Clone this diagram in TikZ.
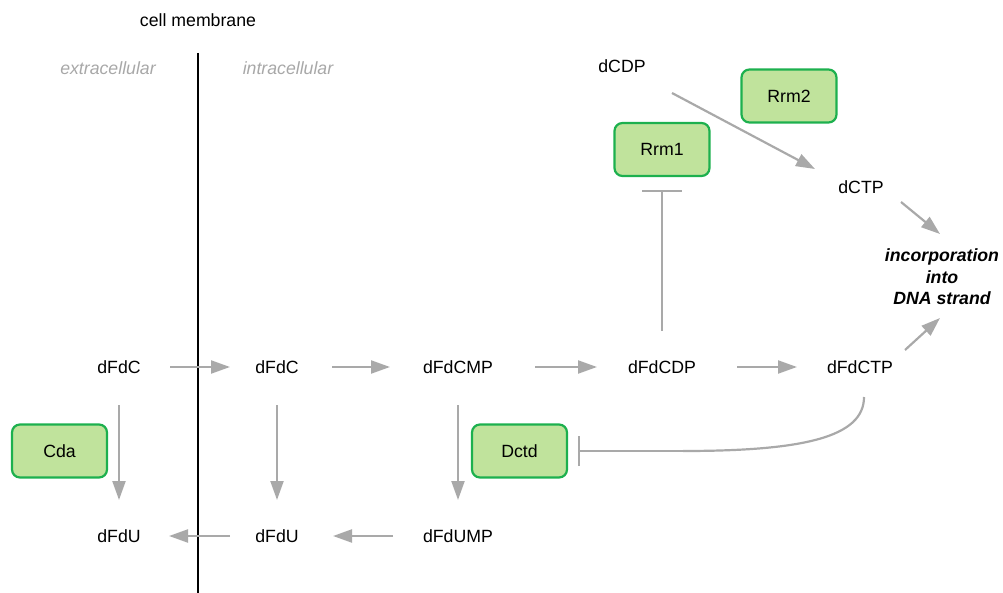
\documentclass[tikz,border=0pt]{standalone}
\usepackage{fontspec}
\setmainfont{Liberation Sans}
\usetikzlibrary{arrows.meta}
\definecolor{arrgray}{HTML}{A9A9A9}
\definecolor{lblgray}{HTML}{A8A8A8}
\definecolor{boxfill}{HTML}{C0E39C}
\definecolor{boxline}{HTML}{1DB04E}
\tikzset{
  txt/.style={inner sep=0pt, font=\fontsize{17.7}{21}\selectfont},
  graylbl/.style={txt, text=lblgray, font=\fontsize{17.7}{21}\selectfont\itshape},
  enzyme/.style={txt, draw=boxline, fill=boxfill, line width=2.2pt, rounded corners=8pt,
    minimum width=95pt, minimum height=53pt},
  arr/.style={draw=arrgray, line width=2.2pt, -{Triangle[length=19pt,width=13pt]}},
  inh/.style={draw=arrgray, line width=2.2pt},
}
\begin{document}
\begin{tikzpicture}[x=1pt,y=-1pt]
\useasboundingbox (0,0) rectangle (1003,593);
% membrane
\node[txt] (cm) at (198,20) {cell membrane};
\coordinate (mtop) at (198,53);
\coordinate (mbot) at (198,593);
\draw[line width=2.2pt] (mtop) -- (mbot);
\node[graylbl] (ext) at (108,68) {extracellular};
\node[graylbl] (int) at (288,68) {intracellular};
% metabolites
\node[txt] (dCDP) at (622,66) {dCDP};
\node[txt] (dCTP) at (861,187) {dCTP};
\node[txt, align=center, font=\fontsize{17.7}{21.5}\selectfont\bfseries\itshape] (inc) at (942,277) {incorporation\\into\\DNA strand};
\node[txt] (dFdC1) at (119,367) {dFdC};
\node[txt] (dFdC2) at (277,367) {dFdC};
\node[txt] (dFdCMP) at (458,367) {dFdCMP};
\node[txt] (dFdCDP) at (662,367) {dFdCDP};
\node[txt] (dFdCTP) at (860,367) {dFdCTP};
\node[txt] (dFdU1) at (119,536) {dFdU};
\node[txt] (dFdU2) at (277,536) {dFdU};
\node[txt] (dFdUMP) at (458,536) {dFdUMP};
% enzymes
\node[enzyme] (Rrm2) at (789,96) {Rrm2};
\node[enzyme] (Rrm1) at (662,149.5) {Rrm1};
\node[enzyme] (Cda) at (59.5,451) {Cda};
\node[enzyme] (Dctd) at (519.5,451) {Dctd};
% horizontal arrows
\draw[arr, shorten <=51pt, shorten >=47pt] (dFdC1.center) -- (dFdC2.center);
\draw[arr, shorten <=55pt, shorten >=68pt] (dFdC2.center) -- (dFdCMP.center);
\draw[arr, shorten <=77pt, shorten >=65pt] (dFdCMP.center) -- (dFdCDP.center);
\draw[arr, shorten <=75pt, shorten >=63pt] (dFdCDP.center) -- (dFdCTP.center);
\draw[arr, shorten <=65pt, shorten >=56pt] (dFdUMP.center) -- (dFdU2.center);
\draw[arr, shorten <=47pt, shorten >=50pt] (dFdU2.center) -- (dFdU1.center);
% vertical arrows
\draw[arr, shorten <=38pt, shorten >=36pt] (dFdC1.center) -- (dFdU1.center);
\draw[arr, shorten <=38pt, shorten >=36pt] (dFdC2.center) -- (dFdU2.center);
\draw[arr, shorten <=38pt, shorten >=36pt] (dFdCMP.center) -- (dFdUMP.center);
% top arrows
\draw[arr] ([xshift=50pt,yshift=-27pt]dCDP.center) -- ([xshift=-46pt,yshift=18pt]dCTP.center);
\draw[arr] ([xshift=40pt,yshift=-15pt]dCTP.center) -- ([xshift=-2pt,yshift=43pt]inc.center);
\draw[arr] ([xshift=45pt,yshift=17pt]dFdCTP.center) -- ([xshift=-2pt,yshift=-41pt]inc.center);
% inhibitions
\draw[inh, -{Bar[width=40pt,line width=2.2pt]}, shorten <=36pt] (dFdCDP.center) -- ([yshift=-13pt]Rrm1.south);
\coordinate (dk) at (683,451);
\draw[inh] ([xshift=4pt,yshift=-30pt]dFdCTP.center) .. controls +(0,40) and +(121,0) .. (dk);
\draw[inh, -{Bar[width=30pt,line width=2.2pt]}] (dk) -- ([xshift=10pt]Dctd.east);
\end{tikzpicture}
\end{document}
